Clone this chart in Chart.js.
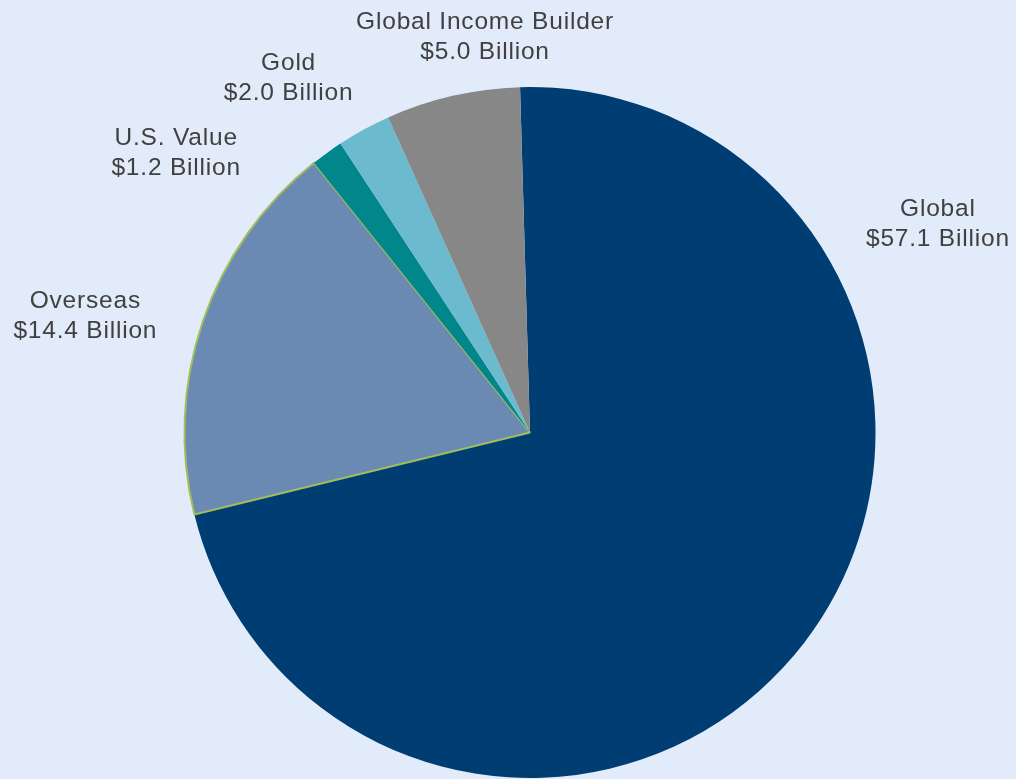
<!DOCTYPE html>
<html>
<head>
<meta charset="utf-8">
<script src="https://cdn.jsdelivr.net/npm/chart.js@4"></script>
<style>
  html, body { margin: 0; padding: 0; background: #e2ebf9; overflow: hidden; }
  #wrap { width: 1016px; height: 779px; position: relative; }
</style>
</head>
<body>
<div id="wrap"><canvas id="fundChart"></canvas></div>
<script>
// fund assets, clockwise from the top
const funds = ["Global", "Overseas", "U.S. Value", "Gold", "Global Income Builder"];
const assets = [57.1, 14.4, 1.2, 2.0, 5.0];
const sliceColors = ["#003d73", "#6a89b3", "#00868b", "#6bbace", "#878787"];

// where each label sits: angle from top (deg, clockwise) and distance in radii
const labelAngle = [63, 284.6, 308.3, 325.7, 353.5];
const labelDist = [1.325, 1.33, 1.305, 1.24, 1.15];

const labelPlugin = {
    id: "outsideLabels",
    afterDraw(chart) {
        const ctx = chart.ctx;
        const arc = chart.getDatasetMeta(0).data[0];
        const cx = arc.x, cy = arc.y, r = arc.outerRadius;
        ctx.save();
        ctx.font = "24.5px 'Liberation Sans', Arial, sans-serif";
        ctx.fillStyle = "#404040";
        ctx.textAlign = "center";
        ctx.textBaseline = "middle";
        ctx.letterSpacing = "0.8px";
        funds.forEach(function (name, i) {
            const a = labelAngle[i] * Math.PI / 180;
            const d = r * labelDist[i];
            const x = cx + Math.sin(a) * d;
            const y = cy - Math.cos(a) * d;
            ctx.fillText(name, x, y - 15);
            ctx.fillText("$" + assets[i].toFixed(1) + " Billion", x, y + 15);
        });
        ctx.restore();
    }
};

const ctx = document.getElementById("fundChart").getContext("2d");
new Chart(ctx, {
    type: "pie",
    data: {
        labels: funds,
        datasets: [{
            data: assets,
            backgroundColor: sliceColors,
            borderColor: ["#003d73", "#9fbe5c", "#00868b", "#6bbace", "#878787"],
            borderWidth: [0, 2, 0, 0, 0]
        }]
    },
    options: {
        responsive: true,
        maintainAspectRatio: false,
        animation: false,
        rotation: -1.65,
        layout: { padding: { left: 44, top: 86, right: 0, bottom: -4 } },
        plugins: {
            legend: { display: false },
            tooltip: { enabled: false }
        }
    },
    plugins: [labelPlugin]
});
</script>
</body>
</html>
